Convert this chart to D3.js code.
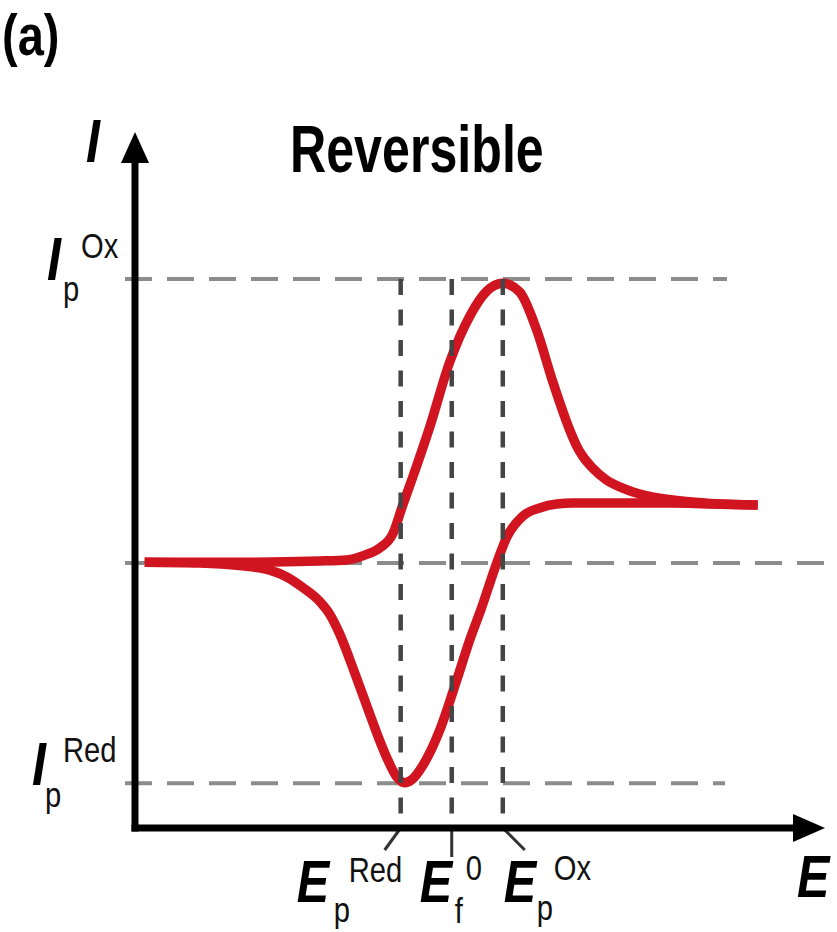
<!DOCTYPE html>
<html>
<head>
<meta charset="utf-8">
<script src="https://cdn.jsdelivr.net/npm/d3@7"></script>
<style>
  body { margin: 0; background: #fff; }
  text { font-family: "Liberation Sans", Arial, sans-serif; }
</style>
</head>
<body>
<script>
const WIDTH = 837;
const HEIGHT = 932;

// peak currents (uA) and potentials (mV vs E_f0)
const ipOx = 10;
const ipRed = -7.75;
const epRed = -29.5;
const ef0 = 0;
const epOx = 29.5;

// forward (anodic) scan, left to right : [E, I]
const forwardScan = [
  [-177.4, 0.03], [-116.7, 0.03], [-76.3, 0.07], [-60.7, 0.11], [-50.3, 0.28],
  [-41.6, 0.53], [-34.1, 1.02], [-28.3, 2.04], [-22.5, 3.03], [-12.7, 4.79],
  [-1.2, 7.07], [10.4, 8.69], [20.2, 9.57], [29.5, 9.85], [39.3, 9.54],
  [49.1, 8.2], [58.3, 6.4], [68.2, 4.68], [72.2, 4.12], [75.7, 3.76],
  [81.5, 3.34], [89.5, 2.92], [98.8, 2.64], [108.6, 2.43], [127.7, 2.22],
  [147.3, 2.11], [176.8, 2.04]
];

// reverse (cathodic) scan, right to left : [E, I]
const reverseScan = [
  [176.8, 2.04], [147.3, 2.08], [127.7, 2.11], [108.6, 2.11], [85.5, 2.11],
  [69.9, 2.11], [60.7, 2.08], [50.8, 1.94], [41.0, 1.65], [31.8, 0.91],
  [26.0, 0.0], [16.8, -1.65], [10.4, -2.71], [2.9, -4.12], [-6.9, -5.88],
  [-16.8, -7.14], [-22.5, -7.6], [-27.2, -7.74], [-31.8, -7.53], [-37.0, -6.93],
  [-41.6, -6.26], [-47.4, -5.31], [-53.1, -4.36], [-58.9, -3.4], [-64.7, -2.5],
  [-70.5, -1.8], [-76.3, -1.35], [-86.1, -0.86], [-95.3, -0.49], [-105.1, -0.25],
  [-122.5, -0.09], [-145.6, 0.0], [-177.4, 0.03]
];

const currentLevels = [ipOx, 0, ipRed];
const potentialLevels = [epRed, ef0, epOx];

const svg = d3.select('body').append('svg')
  .attr('width', WIDTH)
  .attr('height', HEIGHT);

const x = d3.scaleLinear().domain([-183, 207]).range([135, 810]);
const y = d3.scaleLinear().domain([-9.33, 14.72]).range([828, 145]);

const x0 = x.range()[0];
const y0 = y.range()[0];

// horizontal guides (under the curve)
const hEnds = [727, 837, 725];
svg.append('g').selectAll('line')
  .data(currentLevels)
  .enter()
  .append('line')
  .attr('x1', 125)
  .attr('x2', (d, i) => hEnds[i])
  .attr('y1', d => y(d))
  .attr('y2', d => y(d))
  .style('stroke', '#8c8c8c')
  .style('stroke-width', 4)
  .style('stroke-dasharray', '27,15');

// voltammogram
const line = d3.line()
  .x(d => x(d[0]))
  .y(d => y(d[1]))
  .curve(d3.curveMonotoneX);

[forwardScan, reverseScan.slice().reverse()].forEach(scan => {
  svg.append('path')
    .datum(scan)
    .attr('d', line)
    .style('fill', 'none')
    .style('stroke', '#d01520')
    .style('stroke-width', 9.5)
    .style('stroke-linejoin', 'round');
});

// vertical guides (over the curve)
svg.append('g').selectAll('line')
  .data(potentialLevels)
  .enter()
  .append('line')
  .attr('x1', d => x(d))
  .attr('x2', d => x(d))
  .attr('y1', y(ipOx))
  .attr('y2', y0)
  .style('stroke', '#454545')
  .style('stroke-width', 4.5)
  .style('stroke-dasharray', '16,14.5');

// little leader ticks under the E axis
const leadDx = [-16, 0, 22];
svg.append('g').selectAll('line')
  .data(potentialLevels)
  .enter()
  .append('line')
  .attr('x1', d => x(d))
  .attr('x2', (d, i) => x(d) + leadDx[i])
  .attr('y1', y0)
  .attr('y2', (d, i) => y0 + (i == 1 ? 29 : 22))
  .style('stroke', '#333')
  .style('stroke-width', 3);

// axes
svg.append('line')
  .attr('x1', x0).attr('x2', x0)
  .attr('y1', y0 + 3.5).attr('y2', 160)
  .style('stroke', '#000').style('stroke-width', 7);
svg.append('line')
  .attr('x1', x0 - 3.5).attr('x2', 796)
  .attr('y1', y0).attr('y2', y0)
  .style('stroke', '#000').style('stroke-width', 7);
svg.append('polygon')
  .attr('points', [[x0, 132], [x0 - 14, 163], [x0 + 14, 163]].join(' '))
  .style('fill', '#000');
svg.append('polygon')
  .attr('points', [[825, y0], [793, y0 - 14], [793, y0 + 14]].join(' '))
  .style('fill', '#000');

// text helper: the original type is horizontally condensed
function label(tx, ty, str, size, opts) {
  opts = opts || {};
  svg.append('text')
    .attr('transform', 'translate(' + tx + ',' + ty + ') scale(' + (opts.sx || 0.81) + ',1)')
    .style('font-size', size + 'px')
    .style('font-style', opts.italic ? 'italic' : 'normal')
    .style('font-weight', opts.bold ? 'bold' : 'normal')
    .style('fill', opts.color || '#000')
    .text(str);
}

const SUB = 36;
label(2, 55, '(a)', 58, {bold: true});
label(290, 172, 'Reversible', 66, {bold: true, sx: 0.76});

label(86, 162, 'I', 62, {italic: true, bold: true});
label(797, 897, 'E', 60, {italic: true, bold: true});

// current labels
label(47, 280, 'I', 62, {italic: true, bold: true});
label(63, 301, 'p', SUB, {color: '#111'});
label(81, 258, 'Ox', SUB, {color: '#111'});

label(32, 785, 'I', 62, {italic: true, bold: true});
label(45, 807, 'p', SUB, {color: '#111'});
label(63, 762, 'Red', SUB, {color: '#111'});

// potential labels
label(x(epRed) - 104, 902, 'E', 60, {italic: true, bold: true});
label(x(epRed) - 67, 922, 'p', SUB, {color: '#111'});
label(x(epRed) - 52, 882, 'Red', SUB, {color: '#111'});

label(x(ef0) - 32, 902, 'E', 60, {italic: true, bold: true});
label(x(ef0) + 3, 923, 'f', SUB, {color: '#111'});
label(x(ef0) + 14, 880, '0', SUB, {color: '#111'});

label(x(epOx) + 1, 902, 'E', 60, {italic: true, bold: true});
label(x(epOx) + 34, 920, 'p', SUB, {color: '#111'});
label(x(epOx) + 51, 880, 'Ox', SUB, {color: '#111'});
</script>
</body>
</html>
